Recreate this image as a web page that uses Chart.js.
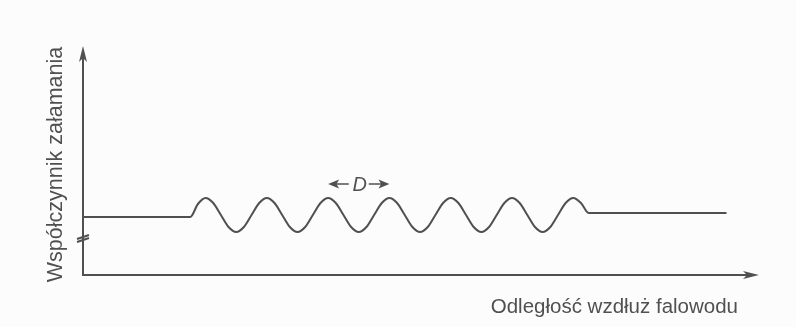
<!DOCTYPE html>
<html>
<head>
<meta charset="utf-8">
<script src="https://cdn.jsdelivr.net/npm/chart.js@4/dist/chart.umd.min.js"></script>
<style>
  html, body { margin: 0; padding: 0; background: #fcfcfc; }
  #wrap { width: 796px; height: 327px; position: relative; }
</style>
</head>
<body>
<div id="wrap"><canvas id="chart"></canvas></div>
<script>
"use strict";

// distance along the waveguide, in periods D
const distance = [0, 1.75,
  1.875, 2.0, 2.125, 2.25, 2.375, 2.5, 2.625, 2.75,
  2.875, 3.0, 3.125, 3.25, 3.375, 3.5, 3.625, 3.75,
  3.875, 4.0, 4.125, 4.25, 4.375, 4.5, 4.625, 4.75,
  4.875, 5.0, 5.125, 5.25, 5.375, 5.5, 5.625, 5.75,
  5.875, 6.0, 6.125, 6.25, 6.375, 6.5, 6.625, 6.75,
  6.875, 7.0, 7.125, 7.25, 7.375, 7.5, 7.625, 7.75,
  7.875, 8.0, 8.125, 8.25, 10.5];
// refractive index (arbitrary units)
const index = [5.8, 5.8,
  7.1, 7.7, 7.2, 6.0, 4.8, 4.3, 4.8, 6.0,
  7.2, 7.7, 7.2, 6.0, 4.8, 4.3, 4.8, 6.0,
  7.2, 7.7, 7.2, 6.0, 4.8, 4.3, 4.8, 6.0,
  7.2, 7.7, 7.2, 6.0, 4.8, 4.3, 4.8, 6.0,
  7.2, 7.7, 7.2, 6.0, 4.8, 4.3, 4.8, 6.0,
  7.2, 7.7, 7.2, 6.0, 4.8, 4.3, 4.8, 6.0,
  7.2, 7.7, 7.2, 6.2, 6.2];

const xLabel = 'Odległość wzdłuż falowodu';
const yLabel = 'Współczynnik załamania';
const periodLabel = 'D';
const periodFrom = 4.0;
const periodTo = 5.0;
const periodLevel = 9.1;
const breakLevel = 3.7;

const X_MAX = 11.03;
const Y_MAX = 22.9;
const INK = '#505050';

(() => {
  const canvas = document.getElementById('chart');

  const arrowHead = (ctx, x, y, dx, dy, len, half) => {
    // tip at (x,y), pointing along (dx,dy)
    ctx.beginPath();
    ctx.moveTo(x, y);
    ctx.lineTo(x - dx * len - dy * half, y - dy * len + dx * half);
    ctx.lineTo(x - dx * len * 0.75, y - dy * len * 0.75);
    ctx.lineTo(x - dx * len + dy * half, y - dy * len - dx * half);
    ctx.closePath();
    ctx.fill();
  };

  const sketch = {
    id: 'sketch',
    beforeDatasetsDraw(chart) {
      const { ctx, scales: { x, y } } = chart;
      const x0 = x.getPixelForValue(0);
      const y0 = y.getPixelForValue(0);
      const xEnd = x.getPixelForValue(X_MAX);
      const yEnd = y.getPixelForValue(Y_MAX);
      ctx.save();
      ctx.strokeStyle = INK;
      ctx.fillStyle = INK;
      ctx.lineWidth = 2;
      ctx.beginPath();
      ctx.moveTo(x0, yEnd + 10);
      ctx.lineTo(x0, y0);
      ctx.lineTo(xEnd - 10, y0);
      ctx.stroke();
      arrowHead(ctx, x0, yEnd, 0, -1, 16, 4);
      arrowHead(ctx, xEnd, y0, 1, 0, 16, 4);

      // axis break mark
      const yb = y.getPixelForValue(breakLevel);
      ctx.lineWidth = 2;
      ctx.beginPath();
      ctx.moveTo(x0 - 6, yb + 1);
      ctx.lineTo(x0 + 6, yb - 3);
      ctx.moveTo(x0 - 6, yb + 4);
      ctx.lineTo(x0 + 6, yb);
      ctx.stroke();

      // period D marker
      const pa = x.getPixelForValue(periodFrom);
      const pb = x.getPixelForValue(periodTo);
      const py = y.getPixelForValue(periodLevel);
      const pm = (pa + pb) / 2;
      ctx.lineWidth = 1.5;
      ctx.beginPath();
      ctx.moveTo(pa + 6, py);
      ctx.lineTo(pm - 10, py);
      ctx.moveTo(pm + 10, py);
      ctx.lineTo(pb - 6, py);
      ctx.stroke();
      arrowHead(ctx, pa, py, -1, 0, 11, 4.5);
      arrowHead(ctx, pb, py, 1, 0, 11, 4.5);
      ctx.font = 'italic 20px "Liberation Sans", Arial, sans-serif';
      ctx.textAlign = 'center';
      ctx.textBaseline = 'middle';
      ctx.fillText(periodLabel, pm + 1, py + 1);
      ctx.restore();
    },
    afterDraw(chart) {
      const { ctx, scales: { x, y } } = chart;
      ctx.save();
      ctx.fillStyle = INK;
      ctx.font = '20.5px "Liberation Sans", Arial, sans-serif';
      ctx.textAlign = 'right';
      ctx.textBaseline = 'alphabetic';
      ctx.fillText(xLabel, x.getPixelForValue(X_MAX) - 21, y.getPixelForValue(0) + 38);

      ctx.translate(x.getPixelForValue(0) - 21, (y.getPixelForValue(0) + y.getPixelForValue(Y_MAX)) / 2 + 4);
      ctx.rotate(-Math.PI / 2);
      ctx.font = '21.5px "Liberation Sans", Arial, sans-serif';
      ctx.textAlign = 'center';
      ctx.fillText(yLabel, 0, 0);
      ctx.restore();
    }
  };

  const config = {
    type: 'line',
    data: {
      datasets: [{
        data: distance.map((d, i) => ({ x: d, y: index[i] })),
        borderColor: INK,
        borderWidth: 2,
        pointRadius: 0,
        cubicInterpolationMode: 'monotone',
        fill: false
      }]
    },
    options: {
      responsive: true,
      maintainAspectRatio: false,
      animation: false,
      layout: {
        autoPadding: false,
        padding: { left: 83, right: 37, top: 46, bottom: 52 }
      },
      plugins: {
        legend: { display: false },
        tooltip: { enabled: false }
      },
      scales: {
        x: { type: 'linear', min: 0, max: X_MAX, display: false },
        y: { type: 'linear', min: 0, max: Y_MAX, display: false }
      }
    },
    plugins: [sketch]
  };

  new Chart(canvas, config);
})();
</script>
</body>
</html>
